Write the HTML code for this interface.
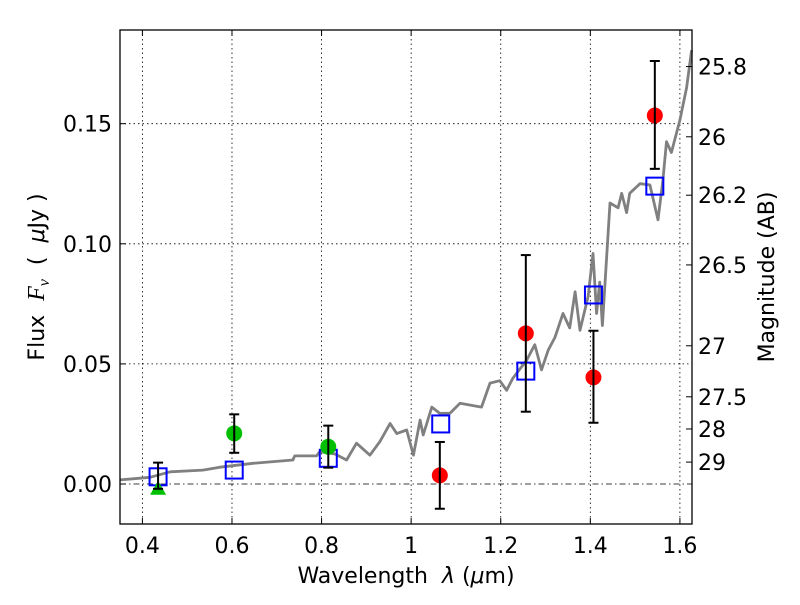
<!DOCTYPE html>
<html><head><meta charset="utf-8"><style>
body{margin:0;background:#fff;}
svg text{font-family:"DejaVu Sans","Liberation Sans",sans-serif;white-space:pre;}
</style></head><body>
<svg id="chart" width="800" height="600" viewBox="0 0 800 600" xmlns="http://www.w3.org/2000/svg">
<rect width="800" height="600" fill="#fff"/>
<g id="grid"></g>
<g id="spec"></g>
<g id="marks"></g>
<g id="axes"></g>
<text x="406" y="583" font-size="22" text-anchor="middle">Wavelength  <tspan font-style="italic">λ</tspan> (<tspan font-style="italic">μ</tspan>m)</text>
<text transform="translate(44,277) rotate(-90)" font-size="22" text-anchor="middle">Flux  <tspan font-family="Liberation Serif" font-style="italic" font-size="24">F</tspan><tspan font-family="Liberation Serif" font-style="italic" font-size="16" dy="5">ν</tspan><tspan dy="-5">  (  </tspan><tspan font-style="italic">μ</tspan>Jy )</text>
<text transform="translate(774,277) rotate(-90)" font-size="22" text-anchor="middle">Magnitude (AB)</text>
</svg>
<script>
const xTicks=[0.4,0.6,0.8,1.0,1.2,1.4,1.6];
const xTickLabels=["0.4","0.6","0.8","1","1.2","1.4","1.6"];
const yTicks=[0,0.05,0.10,0.15];
const yTickLabels=["0.00","0.05","0.10","0.15"];
const magTicks=[25.8,26,26.2,26.5,27,27.5,28,29];
const specWave=[0.35,0.417,0.462,0.535,0.573,0.647,0.736,0.74,0.789,0.796,0.83,0.856,0.878,0.908,0.93,0.953,0.968,0.99,1.005,1.02,1.027,1.046,1.064,1.087,1.109,1.157,1.176,1.198,1.213,1.227,1.258,1.276,1.291,1.306,1.321,1.339,1.354,1.366,1.377,1.395,1.406,1.414,1.421,1.427,1.444,1.462,1.47,1.481,1.488,1.511,1.533,1.551,1.562,1.57,1.581,1.6,1.615,1.626];
const specFlux=[0.0017,0.0028,0.0051,0.0058,0.007,0.0086,0.010,0.0117,0.0117,0.0135,0.0125,0.010,0.017,0.012,0.0176,0.0252,0.021,0.0225,0.012,0.0266,0.0204,0.032,0.0294,0.0295,0.0336,0.032,0.042,0.043,0.039,0.044,0.0516,0.058,0.0475,0.0557,0.061,0.071,0.065,0.080,0.064,0.078,0.096,0.071,0.084,0.066,0.117,0.115,0.121,0.113,0.121,0.125,0.1245,0.110,0.1265,0.1425,0.138,0.1515,0.165,0.1806];
const modelWave=[0.435,0.605,0.815,1.066,1.256,1.407,1.544];
const modelFlux=[0.003,0.0058,0.0107,0.025,0.047,0.0787,0.124];
const greenWave=[0.605,0.815];
const greenFlux=[0.0211,0.0155];
const greenLo=[0.013,0.0068];
const greenHi=[0.029,0.0243];
const triWave=[0.435];
const triFlux=[-0.002];
const triLo=[-0.002];
const triHi=[0.0089];
const redWave=[1.064,1.256,1.407,1.544];
const redFlux=[0.0036,0.0627,0.0444,0.1534];
const redLo=[-0.0103,0.0301,0.0255,0.1312];
const redHi=[0.0175,0.0953,0.0638,0.1761];

const L=120,R=692,T=30,B=524,XMIN=0.35,XMAX=1.627,YMIN=-0.01665,YMAX=0.189;
const sx=v=>L+(v-XMIN)/(XMAX-XMIN)*(R-L);
const sy=v=>B-(v-YMIN)/(YMAX-YMIN)*(B-T);
const NS="http://www.w3.org/2000/svg";
function mk(tag,parent,attrs){const e=document.createElementNS(NS,tag);for(const k in attrs)e.setAttribute(k,attrs[k]);parent.appendChild(e);return e;}
const grid=document.getElementById('grid'),axes=document.getElementById('axes'),spec=document.getElementById('spec'),marks=document.getElementById('marks');

xTicks.forEach((t,i)=>{
  const x=sx(t);
  const g=mk('line',grid,{x1:x,x2:x,y1:T,y2:B,stroke:'#000','stroke-width':0.8,'stroke-dasharray':'1.5,3'});
  
  const tk=mk('line',axes,{x1:x,x2:x,y1:B,y2:B-6,stroke:'#000','stroke-width':1});
  
  const tt=mk('line',axes,{x1:x,x2:x,y1:T,y2:T+6,stroke:'#000','stroke-width':1});
  
  const lb=mk('text',axes,{x:x,y:B+29,'font-size':22,'text-anchor':'middle'});lb.textContent=xTickLabels[i];
  
});
yTicks.forEach((t,i)=>{
  const y=sy(t);
  const g=mk('line',grid,{x1:L,x2:R,y1:y,y2:y,stroke:'#000','stroke-width':0.8,'stroke-dasharray':t===0?'6,3,1.5,3':'1.5,3'});
  
  const tk=mk('line',axes,{x1:L,x2:L+6,y1:y,y2:y,stroke:'#000','stroke-width':1});
  
  const lb=mk('text',axes,{x:L-8,y:y+8,'font-size':22,'text-anchor':'end'});lb.textContent=yTickLabels[i];
  
});
magTicks.forEach(m=>{
  const f=Math.pow(10,(23.9-m)/2.5);const y=sy(f);
  const tk=mk('line',axes,{x1:R-6,x2:R,y1:y,y2:y,stroke:'#000','stroke-width':1});
  
  const lb=mk('text',axes,{x:R+6,y:y+8,'font-size':22});lb.textContent=String(m);
  
});
const fr=mk('rect',axes,{x:L,y:T,width:R-L,height:B-T,fill:'none',stroke:'#000','stroke-width':1.3});


const pts=specWave.map((w,i)=>sx(w).toFixed(1)+','+sy(specFlux[i]).toFixed(1)).join(' ');
const pl=mk('polyline',spec,{points:pts,fill:'none',stroke:'#808080','stroke-width':2.8,'stroke-linejoin':'round'});


function errbar(w,lo,hi){
  const x=sx(w);
  const l=mk('line',marks,{x1:x,x2:x,y1:sy(lo),y2:sy(hi),stroke:'#000','stroke-width':2});
  
  [lo,hi].forEach(v=>{const c=mk('line',marks,{x1:x-5,x2:x+5,y1:sy(v),y2:sy(v),stroke:'#000','stroke-width':2});
  });
}
modelWave.forEach((w,i)=>{
  const r=mk('rect',marks,{x:sx(w)-8.5,y:sy(modelFlux[i])-8.5,width:17,height:17,fill:'none',stroke:'#0000ff','stroke-width':2});
  
});
triWave.forEach((w,i)=>{
  const x=sx(w),y=sy(triFlux[i]);
  const p=mk('polygon',marks,{points:`${x},${y-8} ${x-8},${y+6} ${x+8},${y+6}`,fill:'#00bf00'});
  
  errbar(w,triLo[i],triHi[i]);
});
greenWave.forEach((w,i)=>{
  const c=mk('circle',marks,{cx:sx(w),cy:sy(greenFlux[i]),r:8,fill:'#00bf00'});
  
  errbar(w,greenLo[i],greenHi[i]);
});
redWave.forEach((w,i)=>{
  const c=mk('circle',marks,{cx:sx(w),cy:sy(redFlux[i]),r:8,fill:'#ff0000'});
  
  errbar(w,redLo[i],redHi[i]);
});
</script>
</body></html>
